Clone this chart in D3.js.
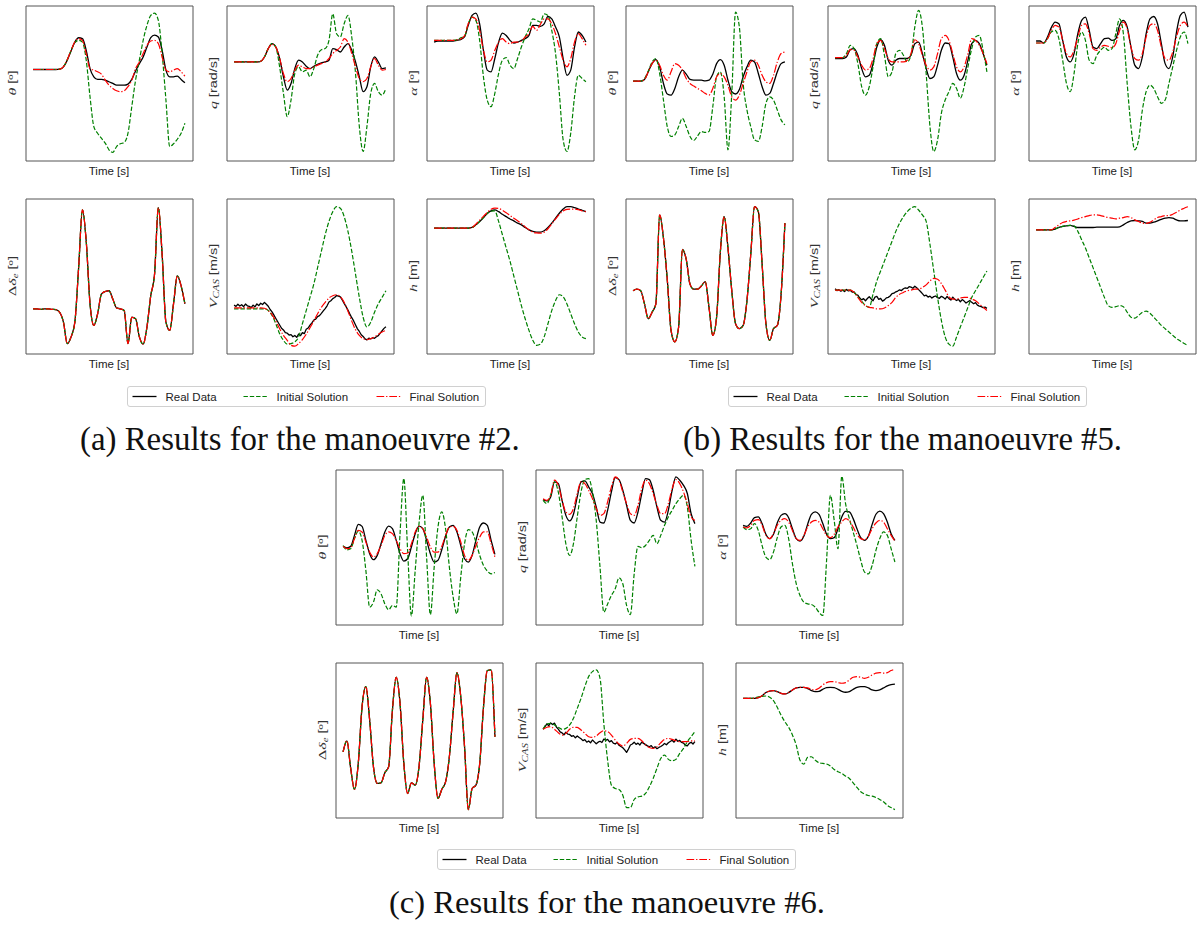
<!DOCTYPE html>
<html>
<head>
<meta charset="utf-8">
<script src="https://cdn.jsdelivr.net/npm/d3@7"></script>
<style>
  html, body { margin: 0; padding: 0; background: #ffffff; }
  svg { display: block; }
</style>
</head>
<body>
<svg id="fig" width="1198" height="925"></svg>
<script>
// ---------------------------------------------------------------------------
// Identification results: real flight data vs. initial and final model runs.
// Each series is sampled uniformly over the manoeuvre; values are in
// normalised units (0 = bottom of the plotted range, 100 = top).
// ---------------------------------------------------------------------------

const captions = [
  "(a) Results for the manoeuvre #2.",
  "(b) Results for the manoeuvre #5.",
  "(c) Results for the manoeuvre #6."
];
const legendLabels = ["Real Data", "Initial Solution", "Final Solution"];
const timeLabel = "Time [s]";

// ----- Manoeuvre #2 -----
const m2_theta_real  = [58.7,58.7,58.7,58.7,58.7,58.7,58.7,58.9,60.4,64.7,70.7,76.4,79.2,78.6,71.1,59.3,54,52.3,52.3,51.8,50.8,49.7,48.6,48.6,48.6,49.3,52.3,57.8,62.5,66.8,73.2,79.2,80.9,79.7,71.1,58.3,54,54,54.4,52.3,50.1];
const m2_theta_init  = [58.7,58.7,58.7,58.7,58.7,58.7,58.7,58.9,60.6,65,71,76,77.5,76.4,64.7,41.1,21.9,17.6,14.4,11.2,6.9,5.2,9,10.8,11.6,17.6,34.7,51.8,64.7,77.5,87.2,93.6,95.1,90.4,69,39,9,10.8,13.7,17.6,24];
const m2_theta_final = [58.7,58.7,58.7,58.7,58.7,58.7,58.7,58.9,60.6,65,71,76.6,78.6,77.5,69,59.3,58.3,57.2,55.7,51.8,48.6,46.5,45,44.4,45,47.6,51.8,59.3,63.6,69,74.3,77.1,77.5,75.4,66.8,58.3,57.2,58.3,59.3,57.2,54.4];

const m2_q_real  = [63.6,63.6,63.6,63.6,63.6,63.6,63.6,64,66.8,72.2,75.4,73.2,65.8,54,45.4,49.7,59.3,64.7,63.6,60.8,59.3,60.8,62.1,63,63.6,64.7,72.2,71.5,70,73.2,75.4,71.1,63.6,54,44.4,47.6,60.4,66.8,63.6,59.3,59.8];
const m2_q_init  = [63.6,63.6,63.6,63.6,63.6,63.6,63.6,64,66.8,72.2,75.4,73,60.4,43.3,28.3,39,56.1,60.4,57.2,58.3,54,59.3,67.9,71.5,72.2,77.5,94.6,81.8,79.7,88.2,93.6,79.7,56.1,21.9,5.8,21.9,43.3,49.7,44.4,42.2,46.5];
const m2_q_final = [63.6,63.6,63.6,63.6,63.6,63.6,63.6,64,66.8,72.2,75,73.2,66,56.1,50.8,52.9,58.3,61.5,60.4,59.3,59.3,60.4,61.5,62.5,63.6,65.8,69,71.1,73.2,78.6,76.4,69,60.4,52.9,50.8,52.9,60.4,65.8,61.5,58.3,58.7];

const m2_alpha_real  = [76.4,77.1,77.1,77.1,77.1,77.1,77.5,78,79.7,87.2,93.6,95.1,88.2,71.1,58.3,57.2,65.8,76.4,82.2,80.7,77.5,75.8,76.4,77.5,78.6,80.7,87.2,87.2,86.5,88.2,92.9,91.4,86.1,79.7,65.8,55,58.3,73.2,82.9,80.7,76.4];
const m2_alpha_init  = [77.5,77.5,77.5,77.5,77.5,77.5,77.8,79.2,80,88.2,92.5,90.4,77.5,54,39,34.7,43.3,56.1,64.7,66.4,61.5,59.3,65.8,73.2,79.7,85,91.4,90.4,89.3,94.6,93.6,83.9,69,43.3,13.3,5.8,17.6,41.1,55,52.9,50.8];
const m2_alpha_final = [77.5,77.5,77.5,77.5,77.5,77.5,77.8,78.4,80.5,88.2,92.5,91.4,83.9,71.1,63.6,64.7,71.1,76.4,78.6,76.4,75.4,76.4,76.4,77.1,79.7,81.8,86.5,83.9,87.8,91.4,91.4,88.2,81.8,73.2,64.7,60.4,65.8,76.4,81.8,78.6,74.3];

// elevator deflection is the recorded input, shared by all three runs
const m2_de = [28.8,28.8,28.5,28.8,28.8,28.5,28.3,26.6,20.2,6.4,10.7,20.2,55.4,92.6,72.4,32,18.1,25.6,38.3,40,40.5,35.1,29.4,28.8,27.7,6.4,23.4,22.4,10.7,6,17.1,37.3,51.1,94.1,63.9,20.2,14.9,32,50,43.6,32];

const m2_vcas_real  = [31.2,30.4,31.8,30.6,31.5,30.2,31.9,30.8,30.4,29.6,31.2,30.1,32.0,30.9,32.4,31.6,33.0,31.8,30.5,28.4,26.9,24.8,22.6,20.5,18.4,16.3,15.2,13.4,13.1,11.9,12.2,10.8,11.6,10.4,12.6,11.5,13.5,12.8,15.6,16.4,18.3,19.8,21.6,22.2,23.8,24.4,25.9,27.5,29.0,30.8,33.2,34.0,35.4,36.1,37.4,37.0,36.5,34.6,32.3,30.2,28.0,25.4,23.1,21.0,18.4,15.9,14.2,12.1,11.0,9.4,8.8,9.9,9.4,10.2,9.8,10.8,11.5,13.2,14.7,16.2,17.3];
const m2_vcas_init  = [28.8,28.8,28.8,28.8,28.8,28.8,28.8,28.8,28.8,27.7,24.5,19.2,12.8,8.5,6,6.4,7.5,10.7,19.2,27.7,36.2,44.7,55.4,66,76.6,85.2,91.5,94.7,93.7,88.3,78.8,66,51.1,36.2,23.4,17.1,20.2,26.6,32,36.2,40.5];
const m2_vcas_final = [29.4,29.4,29.4,29.4,29.4,29.4,29.4,29.4,29.2,27.7,25.1,20.9,16,11.7,8.5,5.3,4.7,6.4,9,12.4,16.6,20.9,25.6,29.8,33,35.8,37.3,37.9,36.6,33,27.3,20.9,15.3,11.7,9.6,9,9.6,10.7,12.4,13.9,14.9];

const m2_h_real  = [80.9,80.9,80.9,80.9,80.9,80.9,80.9,80.9,80.9,80.9,81.3,83,85.2,87.7,90.3,92,92.6,91.5,89.8,88.3,86.8,85.6,84.1,83,81.3,79.8,78.8,78.3,78.3,79.2,81.3,84.1,87.3,90.5,93.2,94.7,94.7,94.1,93.2,92.4,91.5];
const m2_h_init  = [80.9,80.9,80.9,80.9,80.9,80.9,80.9,80.9,80.9,80.9,81.3,83,85.2,87.7,90.3,91.8,92,85.2,76.6,68.1,59.6,50,40.5,30.9,22.4,14.9,8.5,5.3,6,10.7,19.2,27.7,34.1,37.9,36.6,32,25.6,19.2,13.9,10.7,9.6];
const m2_h_final = [80.9,80.9,80.9,80.9,80.9,80.9,80.9,80.9,80.9,80.9,81.3,83.5,86,88.5,91,93,93.8,93.6,92.4,90.8,89,87.3,85.6,83.8,81.7,79.8,78.3,77.8,77.6,78.3,80.5,83.5,86.8,89.8,92,93,93.2,93.2,92.8,92,91.5];

// ----- Manoeuvre #5 -----
const m5_theta_real  = [51.2,51.2,51.2,52.3,57.2,62.5,65.1,60.4,49.7,42.9,42.2,46.5,54,58.3,55.7,52.3,51.8,51.8,51.8,51.4,51.8,55.7,62.5,65.1,61.5,51.8,44.4,42.9,45.8,54,60.4,64.7,63.6,56.1,47.6,42.2,43.3,49.7,57.2,62.5,63.6];
const m5_theta_init  = [51.2,51.2,51.2,52.9,57.8,63.6,65.8,56.1,39,21.9,15.5,16.5,21.9,27.2,21.9,15.5,12.9,15.9,18.7,18.1,18.7,34.7,54,57.2,41.1,6.9,43.3,95.7,86.1,49.7,32.6,21.9,13.3,12.3,21.9,36.9,41.1,39,32.6,26.2,23];
const m5_theta_final = [51.2,51.2,51.2,52.3,57.2,62.5,64.7,61.5,55,51.8,57.2,62.5,61.5,58.3,52.9,49.7,48,46.5,45,43.3,42.2,46.5,54,56.1,54,48.6,41.1,39,42.2,49.7,57.2,63.6,64.7,61.5,55,50.8,49.7,55,63.6,69,70];

const m5_q_real  = [65.8,65.8,65.8,66.8,71.5,72.2,67.9,59.3,54,55,62.5,73.2,77.9,74.3,64.7,61.5,64.7,65.8,65.8,65.8,67.9,75.4,76.4,69,59.3,52.9,54,61.5,71.1,75.8,75.4,66.8,56.1,51.8,55,64.7,75.4,77.5,75.4,69,61.5];
const m5_q_init  = [66.4,66.4,66.4,69,74.3,72.2,62.5,47.6,42.2,47.6,60.4,75.4,78.6,67.9,54,57.2,69,71.1,67.9,63.6,67.9,86.1,96.8,86.1,56.1,21.9,5.8,13.3,30.4,39,44.4,49.7,46.5,40.1,47.6,60.4,72.2,79.7,80.7,71.1,57.2];
const m5_q_final = [66.4,66.4,66.4,67.9,71.5,71.1,66.8,61.5,58.3,59.3,65.8,75.4,77.5,72.2,65.8,63.6,63.6,63.6,63.6,64.7,69,77.9,75.4,67.9,61.5,58.3,60.4,69,78.6,80.7,77.5,69,60.4,57.2,60.4,69,78.6,77.5,74.3,69,62.5];

const m5_alpha_real  = [77.1,77.1,75.8,79.7,85.7,89.3,88.2,77.5,66.8,63.6,69,81.8,90.4,92.5,83.9,73.2,72.2,75.4,78.6,79,77.5,78.6,87.2,90.4,86.1,73.2,61.5,59.3,66.8,81.8,91.4,92.9,88.2,75.4,62.5,59.3,66.8,82.9,93.6,95.7,86.1];
const m5_alpha_init  = [75.8,75.8,75.8,78.6,82.9,83.9,78.6,64.7,49.7,44.4,56.1,75.4,82.9,77.5,64.7,62.5,67.9,71.1,73.2,71.1,72.2,81.8,91.4,81.8,49.7,21.9,6.9,13.3,32.6,44.4,48.6,46.5,41.1,36.9,39,49.7,60.4,71.1,79.7,82.9,75.4];
const m5_alpha_final = [75.8,75.8,75.8,78.6,83.9,87.2,86.1,77.5,69,66.8,71.1,79.7,87.2,88.2,81.8,72.2,71.1,73.2,74.3,73.7,72.8,75.4,83.9,89.3,85,73.2,65.8,64.7,69,79.7,87.2,88.2,83.9,73.2,65.8,64.7,70,79.7,87.2,89.3,86.1];

const m5_de = [40.5,41.5,40.5,32,22.4,26.6,32,89.4,74.5,47.9,14.9,7.5,17.1,67.1,60.7,44.7,41.5,41.5,43.6,46.4,29.8,11.7,23.4,66,88.3,68.1,40.5,19.2,16,18.1,34.1,63.9,94.7,91.5,57.5,19.2,8.5,16,18.1,38.3,84.1];

const m5_vcas_real  = [41.8,40.6,41.2,40.2,40.9,40.0,41.3,40.4,40.8,39.6,39.8,38.2,37.6,35.8,34.6,35.4,34.0,35.5,36.6,35.2,34.0,36.4,36.8,34.9,35.6,33.8,34.6,35.9,36.2,37.1,38.6,38.9,39.8,40.3,41.1,40.6,41.8,42.4,42.0,43.1,42.8,42.1,43.4,42.4,41.2,40.0,38.6,37.2,37.6,36.4,37.0,35.8,36.7,37.1,36.0,35.6,36.9,36.2,35.1,36.8,35.4,34.5,36.4,35.0,34.2,34.9,33.4,34.8,33.8,32.6,33.4,34.2,33.0,32.1,32.8,31.2,30.6,30.2,29.6,29.9,29.1];
const m5_vcas_init  = [40.9,40.9,40.9,40.9,40.9,39.4,36.6,33.7,30.9,29.8,38.3,46.8,53.2,59.6,66,72.4,78.8,84.1,88.3,91.5,93.7,94.7,92.6,89.4,85.2,70.3,53.2,36.2,21.3,10.7,6,4.7,10.7,17.1,23.4,29.8,36.2,40.5,44.7,49,53.2];
const m5_vcas_final = [40.9,40.9,40.9,40.9,40.9,39.4,36.2,33,30.9,29.8,29.4,28.8,28.8,29.4,30.9,33,36.2,38.3,39.4,40.5,40.9,41.5,41.5,42.6,44.3,46.8,48.5,47.9,45.1,40.9,36.6,35.1,35.1,35.8,36.2,36.2,35.1,34.1,32,29.8,27.7];

const m5_h_real  = [79.8,79.8,79.8,79.8,79.8,80.3,81.3,82,82.4,82.6,82,81.3,81.3,81.3,81.3,81.3,81.5,81.5,81.5,81.5,81.5,81.5,81.7,83,84.5,85.6,85.8,85.6,85.2,84.1,84.1,84.7,85.6,86.6,87.3,87.7,87.3,86.2,85.6,85.6,85.8];
const m5_h_init  = [79.8,79.8,79.8,79.8,79.8,80.3,81.3,82,82.4,82.6,82.3,78.8,73.4,68.1,61.7,55.4,49,42.6,36.2,30.9,29.8,30.2,30.9,30.2,26.6,23.4,22.8,24.5,26.6,27.3,26,23.4,20.9,18.1,16,13.9,11.7,9.6,8.1,6.4,5.3];
const m5_h_final = [79.8,79.8,79.8,79.8,79.8,81.3,83,84.5,85.2,85.6,86,86.8,87.7,88.3,89,89.4,89.4,89,88.3,87.7,87.3,86.8,87.3,87.7,88.3,87.7,86.2,85.2,84.1,83.9,84.7,86.2,87.7,88.3,89,89,89.8,91.1,92.6,93.7,94.7];

// ----- Manoeuvre #6 -----
const m6_theta_real  = [50.4,49.5,50.4,57.5,64.6,63.3,54.3,45.7,41.8,44.6,52.1,59.7,63.5,61.8,54.3,45.7,40.9,42.4,50,58.6,63.5,61.8,54.3,45.7,40.3,41.4,48.2,56.9,62.9,64,59.7,51,42.4,40.3,44.6,54.3,62.9,65.5,64,54.3,45.2];
const m6_theta_init  = [51,48.2,48.9,55.4,60.3,54.3,34.9,11.2,14.4,22.4,19.8,13.3,9.5,12.3,11.2,58.6,94.1,47.8,5.6,34.9,65.1,83.4,43.5,6.4,37,62.9,72.6,61.8,37,17.6,6.9,30.6,52.1,61.2,59.7,53.2,44.6,38.1,34.5,32.7,33.6];
const m6_theta_final = [50.4,48.9,49.5,55.4,60.7,59.7,53.2,46.7,43.5,45.7,51,57.5,59.7,58.6,54.3,48.9,45.7,46.1,52.1,59.7,63.3,61.8,56.4,50,46.7,46.7,50.4,57.5,62.9,63.3,60.7,53.2,44.6,41.4,44.6,51,56.4,59.7,59.7,52.1,43.5];

const m6_q_real  = [80.6,79.7,82.3,92,90.9,80.1,70.4,66.8,71.1,82.3,92,92.6,88.8,84.5,75.8,66.1,65.5,73.7,85.5,94.8,93.5,86.6,76.9,67.2,65.5,72.6,84.5,94.1,93.5,86.6,75.8,67.2,66.1,73.7,86.6,95.2,93.1,89.8,84.5,71.5,65.1];
const m6_q_init  = [80.1,78,83.4,92,85.5,69.4,52.1,44.6,52.1,69.4,85.5,93.5,94.1,85.5,67.2,37,7.9,13.3,18.7,23,30.1,26.3,12.3,6.4,32.7,50.4,49.5,51,54.3,57.5,52.1,57.5,64,69.4,73.7,78,81.2,83.4,75.8,54.3,37.5];
const m6_q_final = [81.2,80.1,83.4,93.1,89.8,80.1,72.6,71.1,74.8,84.5,92,90.9,86.6,81.2,74.8,70.4,71.5,79.1,88.8,95.2,93.1,85.5,78,71.5,70.4,76.9,87.7,93.1,90.9,84.5,76.9,71.5,71.5,78,87.7,93.5,90.9,85.5,78,69.4,67.2];

const m6_alpha_real  = [64,63.3,65.5,68.9,69.4,65.1,58.2,55.4,58.2,65.5,70.4,71.5,68.9,61.8,55.4,53.8,56.9,64.6,71.1,72.6,71.1,65.1,58.2,55.4,56,61.8,69.4,73,72.6,68.3,61.8,56,54.3,56.9,64.6,71.1,73.2,71.5,66.1,58.6,54.3];
const m6_alpha_init  = [62.9,61.2,61.8,65.1,60.7,51,43.5,41.8,46.7,56,62.9,64,55.4,39.2,26.3,18.7,14.4,13.3,12.9,11.2,7.9,5.8,41.4,83.4,67.2,48.9,95.7,78,68.3,59.7,51,41.4,33.8,32.7,38.1,47.8,55.4,59.7,57.5,48.9,40.3];
const m6_alpha_final = [62.9,62.3,64,67.2,67.6,64,57.5,55.4,58.6,64,67.2,68.3,66.1,60.7,55.4,54.3,57.5,62.9,66.1,67.2,66.1,61.8,57.5,56,58.2,62.9,66.1,68.3,66.8,62.9,58.2,55.4,54.7,56.9,61.8,65.5,67.2,66.1,61.8,57.5,53.8];

const m6_de = [42.4,49.5,31.7,18.1,34.9,71.5,84.5,62.9,32.7,22,22.4,28.9,32.7,69.4,90.5,73.7,34.9,15.5,22.4,20.9,32.7,62.9,90.5,73.7,34.9,12.3,18.1,23,39.2,68.3,93.5,78,45.7,5.1,18.7,20.9,34.9,71.5,94.8,95.2,52.1];

const m6_vcas_real  = [57.0,58.6,60.4,59.2,61.0,60.0,60.9,58.4,57.0,55.2,54.6,53.4,55.0,53.8,53.6,52.4,52.8,51.4,52.6,51.6,50.8,49.6,50.2,48.6,49.4,48.2,50.0,48.8,47.6,48.6,49.2,48.4,50.6,49.8,50.4,48.8,49.6,48.0,47.4,48.4,46.6,45.8,45.0,43.6,42.0,44.2,46.8,47.4,48.6,47.2,48.0,46.8,48.6,47.8,47.0,46.2,45.6,46.4,44.8,45.6,44.4,45.2,45.8,46.6,47.8,46.9,48.2,49.0,49.8,48.6,50.6,49.2,49.8,48.4,48.0,46.6,46.2,47.8,48.6,47.4,48.9];
const m6_vcas_init  = [56.9,60.3,60.7,59.7,58.2,56.9,57.5,59.7,64,70.4,76.9,84.5,90.9,94.1,95.2,89.8,60.7,37,20.9,18.7,18.1,14.4,6.4,6.4,11.6,13.3,13.8,15.5,19.8,25.2,31.7,38.1,40.3,37.5,36.6,37.5,41.4,44.6,48.9,52.1,55.4];
const m6_vcas_final = [56.9,58.2,58.6,56.9,54.7,53.2,54.3,56.9,58.2,58.2,56.4,54.3,52.1,51.7,52.6,54.7,56,55.4,53.2,50,47.4,46.1,47.8,50.4,51,51,49.5,46.7,45.2,44.6,45.7,48.2,50.4,51,50.4,49.5,48.9,48.9,48.9,49.5,49.5];

const m6_h_real  = [76.9,76.9,76.9,76.9,77.3,78.6,80.6,81.6,81.9,81.2,80.1,79.7,80.6,82.3,83.6,84,84,83.2,81.9,81.2,81.4,82.7,83.8,84,83.8,82.7,81.4,80.8,81.2,82.7,84,84.5,84.5,83.6,82.3,81.9,82.3,83.6,84.9,85.7,86];
const m6_h_init  = [76.9,76.9,76.9,77.1,77.8,78.2,78.4,77.6,75.4,71.1,66.1,61.8,58.2,53.2,46.7,37,34.5,38.8,39.2,37,35.3,34.9,34.5,33.2,31,29.5,28.4,26.7,25.2,22.4,19.4,16.6,15.1,14.2,13.8,12.9,11.6,10.1,7.9,6.4,5.1];
const m6_h_final = [76.9,76.9,76.9,76.9,77.3,78.6,80.6,81.6,81.9,81.2,80.1,79.7,80.6,82.3,83.6,84,84,83.6,82.7,82.3,83.4,85.5,87,87.7,87.7,87,86.6,87,88.8,90.5,90.9,90.5,89.8,90.5,92,93.1,93.5,93.1,93.5,94.8,95.7];

// ---------------------------------------------------------------------------
// Drawing
// ---------------------------------------------------------------------------
const svg = d3.select("#fig");
const PW = 167, PH = 155;          // panel size
const DURATION = 40;               // manoeuvre length (s)
const SANS = "'Liberation Sans', Arial, Helvetica, sans-serif";
const SERIF = "'Liberation Serif', 'Times New Roman', serif";

const seriesStyle = {
  real:  { color: "#000000", width: 1.3, dash: null },
  init:  { color: "#008000", width: 1.2, dash: "4.4,1.9" },
  final: { color: "#ff0000", width: 1.2, dash: "7.7,1.9,1.3,1.9" }
};
const seriesKeys = ["real", "init", "final"];

// y-axis label pieces: {t: text, m: math italic, s: subscript, u: upright serif}
const axisLabels = {
  theta: [{ t: "θ", m: true }, { t: " [º]" }],
  q:     [{ t: "q", m: true }, { t: " [rad/s]" }],
  alpha: [{ t: "α", m: true }, { t: " [º]" }],
  de:    [{ t: "Δ", u: true }, { t: "δ", m: true }, { t: "e", m: true, s: true }, { t: " [º]" }],
  vcas:  [{ t: "V", m: true }, { t: "CAS", m: true, s: true }, { t: " [m/s]" }],
  h:     [{ t: "h", m: true }, { t: " [m]" }]
};
const panelOrder = [["theta", "q", "alpha"], ["de", "vcas", "h"]];

const manoeuvres = [
  { theta: [m2_theta_real, m2_theta_init, m2_theta_final],
    q:     [m2_q_real, m2_q_init, m2_q_final],
    alpha: [m2_alpha_real, m2_alpha_init, m2_alpha_final],
    de:    [m2_de, m2_de, m2_de],
    vcas:  [m2_vcas_real, m2_vcas_init, m2_vcas_final],
    h:     [m2_h_real, m2_h_init, m2_h_final] },
  { theta: [m5_theta_real, m5_theta_init, m5_theta_final],
    q:     [m5_q_real, m5_q_init, m5_q_final],
    alpha: [m5_alpha_real, m5_alpha_init, m5_alpha_final],
    de:    [m5_de, m5_de, m5_de],
    vcas:  [m5_vcas_real, m5_vcas_init, m5_vcas_final],
    h:     [m5_h_real, m5_h_init, m5_h_final] },
  { theta: [m6_theta_real, m6_theta_init, m6_theta_final],
    q:     [m6_q_real, m6_q_init, m6_q_final],
    alpha: [m6_alpha_real, m6_alpha_init, m6_alpha_final],
    de:    [m6_de, m6_de, m6_de],
    vcas:  [m6_vcas_real, m6_vcas_init, m6_vcas_final],
    h:     [m6_h_real, m6_h_init, m6_h_final] }
];

// figure layout: panel origins, legend and caption placement per sub-figure
const layout = [
  { cols: [25, 226, 426],  rows: [5, 198],   legend: [127, 386], caption: [80, 450, 440] },
  { cols: [625, 827, 1028], rows: [5, 198],  legend: [728, 386], caption: [683, 450, 439] },
  { cols: [335, 535, 735], rows: [469, 662], legend: [437, 849], caption: [389, 913, 436] }
];

let clipCount = 0;

function drawPanel(x0, y0, key, seriesSet) {
  const g = svg.append("g").attr("transform", `translate(${x0 + 0.5},${y0 + 0.5})`);
  const pad = DURATION * 0.05;
  const x = d3.scaleLinear().domain([-pad, DURATION + pad]).range([0, PW]);
  const y = d3.scaleLinear().domain([0, 100]).range([PH, 0]);

  const id = "clip" + (clipCount++);
  g.append("clipPath").attr("id", id)
    .append("rect").attr("x", 0).attr("y", 0).attr("width", PW).attr("height", PH);
  const plot = g.append("g").attr("clip-path", `url(#${id})`);

  seriesSet.forEach((values, k) => {
    const st = seriesStyle[seriesKeys[k]];
    const n = values.length;
    const noisy = n > 41;
    const line = d3.line()
      .x((d, i) => x(i * DURATION / (n - 1)))
      .y(d => y(d))
      .curve(noisy ? d3.curveLinear : d3.curveMonotoneX);
    const p = plot.append("path").datum(values)
      .attr("d", line)
      .attr("fill", "none")
      .attr("stroke", st.color)
      .attr("stroke-width", st.width)
      .attr("stroke-linejoin", "round");
    if (st.dash) p.attr("stroke-dasharray", st.dash);
  });

  // frame: four tick-less axes
  const frame = [
    [d3.axisBottom(x), 0, PH], [d3.axisTop(x), 0, 0],
    [d3.axisLeft(y), 0, 0], [d3.axisRight(y), PW, 0]
  ];
  frame.forEach(([ax, tx, ty]) => {
    const a = g.append("g").attr("transform", `translate(${tx},${ty})`)
      .call(ax.tickValues([]).tickSizeOuter(0));
    a.select(".domain").attr("stroke", "#555555").attr("stroke-width", 1);
  });

  // x label
  g.append("text")
    .attr("x", PW / 2).attr("y", PH + 14)
    .attr("text-anchor", "middle")
    .attr("font-family", SANS).attr("font-size", 11.5)
    .attr("fill", "#222")
    .text(timeLabel);

  // y label (drawn elongated along the axis, as in the source figure)
  const yl = g.append("text")
    .attr("transform", `translate(-9.5,${PH / 2}) rotate(-90) scale(1.45,1)`)
    .attr("text-anchor", "middle")
    .attr("fill", "#333");
  let shifted = false;
  axisLabels[key].forEach(piece => {
    const ts = yl.append("tspan").text(piece.t);
    if (piece.m || piece.u) {
      ts.attr("font-family", SERIF).attr("font-size", piece.s ? 7.5 : 11)
        .attr("font-style", piece.m ? "italic" : "normal");
    } else {
      ts.attr("font-family", SANS).attr("font-size", 10);
    }
    if (piece.s && !shifted) { ts.attr("dy", 2); shifted = true; }
    else if (!piece.s && shifted) { ts.attr("dy", -2); shifted = false; }
  });
}

function drawLegend(x0, y0) {
  const g = svg.append("g").attr("transform", `translate(${x0 + 0.5},${y0 + 0.5})`);
  g.append("rect").attr("width", 358).attr("height", 20).attr("rx", 2.5)
    .attr("fill", "#ffffff").attr("stroke", "#d0d0d0").attr("stroke-width", 1);
  const xs = [5, 116, 249];
  seriesKeys.forEach((k, i) => {
    const st = seriesStyle[k];
    const l = g.append("line")
      .attr("x1", xs[i]).attr("x2", xs[i] + 24)
      .attr("y1", 10).attr("y2", 10)
      .attr("stroke", st.color).attr("stroke-width", st.width);
    if (st.dash) l.attr("stroke-dasharray", st.dash);
    g.append("text")
      .attr("x", xs[i] + 33).attr("y", 14)
      .attr("font-family", SANS).attr("font-size", 11.5)
      .attr("fill", "#222")
      .text(legendLabels[i]);
  });
}

function drawCaption(x0, yBase, targetWidth, text) {
  const t = svg.append("text")
    .attr("x", x0).attr("y", yBase)
    .attr("font-family", SERIF).attr("font-size", 28)
    .attr("fill", "#111")
    .text(text);
  const w = t.node().getComputedTextLength();
  t.attr("font-size", 28 * targetWidth / w);
}

layout.forEach((lay, gi) => {
  panelOrder.forEach((row, r) => {
    row.forEach((key, c) => {
      drawPanel(lay.cols[c], lay.rows[r], key, manoeuvres[gi][key]);
    });
  });
  drawLegend(lay.legend[0], lay.legend[1]);
  drawCaption(lay.caption[0], lay.caption[1], lay.caption[2], captions[gi]);
});
</script>
</body>
</html>
